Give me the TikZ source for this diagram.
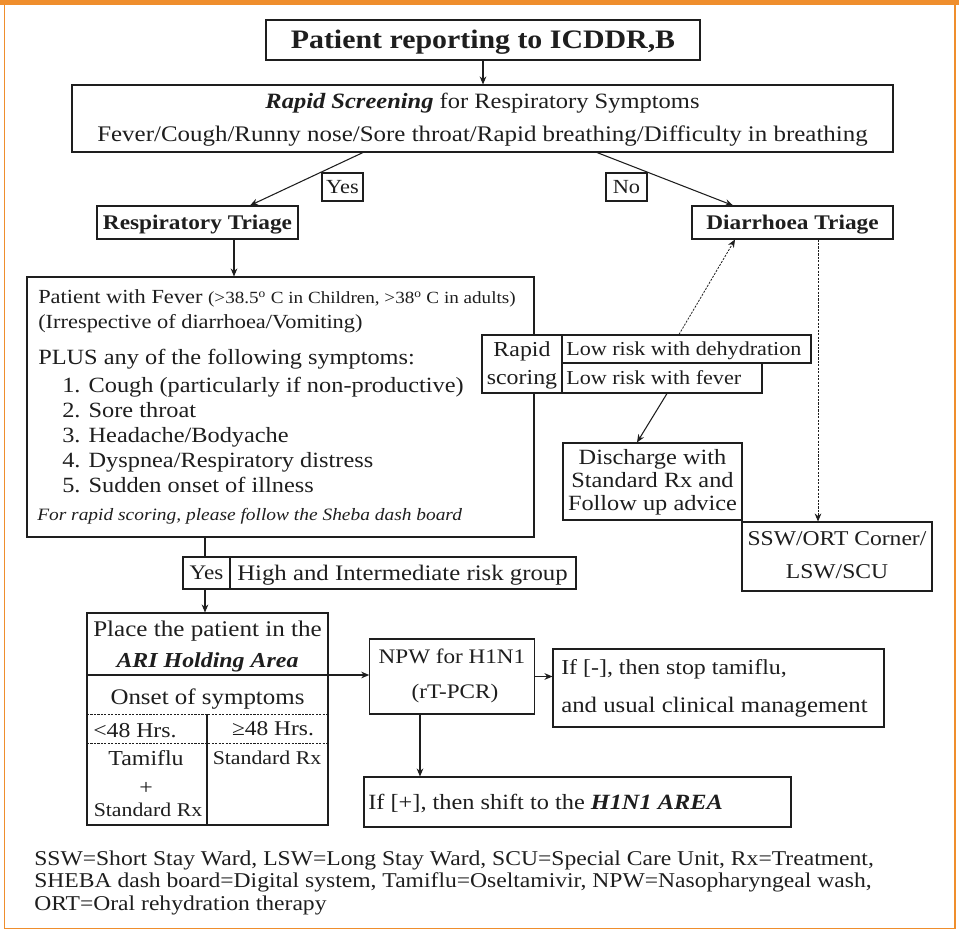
\documentclass[tikz,border=0pt]{standalone}
\usepackage{fontspec}
\setmainfont{Liberation Serif}[FakeStretch=1.12]
\usetikzlibrary{arrows.meta}
\definecolor{frameor}{RGB}{239,142,45}
\definecolor{ink}{RGB}{30,30,30}
\newcommand{\fs}[1]{\fontsize{#1}{#1}\selectfont}
\begin{document}
\begin{tikzpicture}[x=0.75pt,y=-0.75pt,
  bx/.style={draw=ink, line width=0.8pt, inner sep=0pt, fill=white},
  wh/.style 2 args={minimum width=#1*0.75pt, minimum height=#2*0.75pt},
  arr/.style={draw=ink, line width=0.8pt, -{Stealth[length=6pt,width=5pt]}},
  ln/.style={draw=ink, line width=0.8pt},
  dotarr/.style={draw=ink, line width=0.6pt, dash pattern=on 1.6pt off 1pt, -{Stealth[length=6pt,width=5pt]}},
  fdash/.style={draw=ink, line width=0.6pt, dash pattern=on 1.6pt off 1pt},
  lbl/.style={inner sep=0pt, anchor=base west, font=\fs{16.3}, text=ink},
  cl/.style={inner sep=0pt, anchor=base, font=\fs{16.3}, text=ink},
  foot/.style={inner sep=0pt, anchor=base west, font=\fs{15.8}, text=ink},
]
\useasboundingbox (0,0) rectangle (959,930);
% frame
\fill[frameor] (0,0) rectangle (959,5);
\draw[frameor, line width=1.1pt] (4.5,5) -- (4.5,928.5) -- (955,928.5) -- (955,5);

% title
\node[bx, wh={434}{40}] (title) at (483,40) {};
\node[cl, font=\fs{20}\bfseries] (titlet) at (483,48.8) {Patient reporting to ICDDR,B};

% rapid screening
\node[bx, wh={821}{67}] (rapid) at (482.5,118.5) {};
\node[cl, font=\fs{16.4}] (rapid1) at (482.5,109) {\textbf{\textit{Rapid Screening}} for Respiratory Symptoms};
\node[cl, font=\fs{16.7}] (rapid2) at (482.5,142) {Fever/Cough/Runny nose/Sore throat/Rapid breathing/Difficulty in breathing};

% yes / no labels
\node[bx, wh={41}{28}] (yes1) at (342.5,187) {};
\node[cl, font=\fs{15}] (yes1t) at (342.5,193.6) {Yes};
\node[bx, wh={41}{28}] (no1) at (626.5,187) {};
\node[cl, font=\fs{15}] (no1t) at (626.5,193.6) {No};

% triage boxes
\node[bx, wh={201}{33}] (resp) at (197.5,222.5) {};
\node[cl, font=\fs{15.6}\bfseries] (respt) at (197.5,229.4) {Respiratory Triage};
\node[bx, wh={201}{33}] (diar) at (792.5,222.5) {};
\node[cl, font=\fs{15.6}\bfseries] (diart) at (792.5,229.4) {Diarrhoea Triage};

% big box
\node[bx, wh={507}{260}] (big) at (280.5,407) {};
\node[lbl, font=\fs{15}] (b1) at (38,303.6) {Patient with Fever {\fs{12.8}(>38.5\textsuperscript{o} C in Children, >38\textsuperscript{o} C in adults)}};
\node[lbl, font=\fs{15}] (b2) at (38,328.6) {(Irrespective of diarrhoea/Vomiting)};
\node[lbl] (b3) at (38,364.2) {PLUS any of the following symptoms:};
\node[lbl] (b4) at (62,392.2) {1. Cough (particularly if non-productive)};
\node[lbl] (b5) at (62,417.2) {2. Sore throat};
\node[lbl] (b6) at (62,442.2) {3. Headache/Bodyache};
\node[lbl] (b7) at (62,467.2) {4. Dyspnea/Respiratory distress};
\node[lbl] (b8) at (62,492.2) {5. Sudden onset of illness};
\node[lbl, font=\fs{13}\itshape] (b9) at (37,520.7) {For rapid scoring, please follow the Sheba dash board};

% rapid scoring
\node[bx, wh={80}{58}] (rs) at (522,364) {};
\node[cl, font=\fs{16}] (rs1) at (522,356) {Rapid};
\node[cl, font=\fs{16}] (rs2) at (522,384) {scoring};
\node[bx, wh={249}{28}] (lowd) at (686.5,349) {};
\node[lbl, font=\fs{14.8}] (lowdt) at (566,355.5) {Low risk with dehydration};
\node[bx, wh={200}{30}] (lowf) at (662,378) {};
\node[lbl, font=\fs{14.8}] (lowft) at (566,384.5) {Low risk with fever};

% discharge
\node[bx, wh={179}{77}] (dis) at (652.5,481.5) {};
\node[cl] (dis1) at (652.5,464.2) {Discharge with};
\node[cl] (dis2) at (652.5,487.2) {Standard Rx and};
\node[cl] (dis3) at (652.5,510.2) {Follow up advice};

% SSW
\node[bx, wh={190}{69}] (ssw) at (837,556.5) {};
\node[cl, font=\fs{15.8}] (ssw1) at (837,545) {SSW/ORT Corner/};
\node[cl, font=\fs{15.8}] (ssw2) at (837,578) {LSW/SCU};

% yes / high
\node[bx, wh={47}{32}] (yes2) at (206.5,573) {};
\node[cl, font=\fs{15.5}] (yes2t) at (206.5,579.8) {Yes};
\node[bx, wh={346}{32}] (high) at (403,573) {};
\node[lbl, font=\fs{16.6}] (hight) at (237,580.3) {High and Intermediate risk group};

% ARI holding area
\node[bx, wh={241}{212}] (ari) at (207.5,719) {};
\draw[ln] (87,675) -- (328,675);
\draw[fdash] (87,714) -- (328,714);
\draw[fdash] (87,743) -- (328,743);
\draw[ln] (207,714) -- (207,825);
\node[cl, font=\fs{16.8}] (a1) at (207.5,636.4) {Place the patient in the};
\node[cl, font=\fs{16}] (a2) at (207.5,667) {\textbf{\textit{ARI Holding Area}}};
\node[cl, font=\fs{16.7}] (a3) at (207.5,704.4) {Onset of symptoms};
\node[lbl, font=\fs{15.9}] (a4) at (93,737) {<48 Hrs.};
\node[cl, font=\fs{15.7}] (a5) at (273,735) {≥48 Hrs.};
\node[cl, font=\fs{16}] (a6) at (146,765) {Tamiflu};
\node[cl, font=\fs{16}] (a7) at (146,794) {+};
\node[cl, font=\fs{14.6}] (a8) at (148,816.4) {Standard Rx};
\node[cl, font=\fs{14.6}] (a9) at (267,764.4) {Standard Rx};
\coordinate (ariE) at (328,675);

% NPW
\node[bx, wh={164.5}{75}] (npw) at (452,676.5) {};
\node[cl, font=\fs{15.5}] (n1) at (452,663.8) {NPW for H1N1};
\node[cl, font=\fs{15.5}] (n2) at (455,698.8) {(rT-PCR)};

% If -
\node[bx, wh={331}{78}] (ifm) at (718.5,688) {};
\node[lbl, font=\fs{16}] (ifm1) at (561,674) {If [-], then stop tamiflu,};
\node[lbl, font=\fs{16.6}] (ifm2) at (561,712.2) {and usual clinical management};

% If +
\node[bx, wh={427}{50}] (ifp) at (577.5,802) {};
\node[lbl] (ifpt) at (368,809.2) {If [+], then shift to the \textbf{\textit{H1N1 AREA}}};

% footer
\node[foot] (f1) at (34,865) {SSW=Short Stay Ward, LSW=Long Stay Ward, SCU=Special Care Unit, Rx=Treatment,};
\node[foot] (f2) at (34,887) {SHEBA dash board=Digital system, Tamiflu=Oseltamivir, NPW=Nasopharyngeal wash,};
\node[foot] (f3) at (34,910) {ORT=Oral rehydration therapy};

% connectors
\draw[arr] (title.south) -- (title.south |- rapid.north);
\draw[arr] ([xshift=-89.625pt]rapid.south) -- ([xshift=39.375pt]resp.north);
\draw[arr] ([xshift=85.875pt]rapid.south) -- ([xshift=-44.625pt]diar.north);
\draw[arr] ([xshift=27.375pt]resp.south) -- ([xshift=-34.875pt]big.north);
\draw[dotarr] ([xshift=-5.625pt]lowd.north) -- ([xshift=-43.125pt]diar.south);
\draw[arr] ([xshift=3.75pt]lowf.south) -- ([xshift=-11.625pt]dis.north);
\draw[dotarr] ([xshift=19.125pt]diar.south) -- ([xshift=-14.25pt]ssw.north);
\draw[ln] ([xshift=-56.625pt]big.south) -- ([xshift=-1.125pt]yes2.north);
\draw[arr] ([xshift=-1.125pt]yes2.south) -- ([xshift=-1.875pt]ari.north);
\draw[arr] (ariE) -- (ariE -| npw.west);
\draw[arr] (npw.east) -- (npw.east -| ifm.west);
\draw[arr] ([xshift=-24pt]npw.south) -- ([xshift=-118.125pt]ifp.north);
\end{tikzpicture}
\end{document}
